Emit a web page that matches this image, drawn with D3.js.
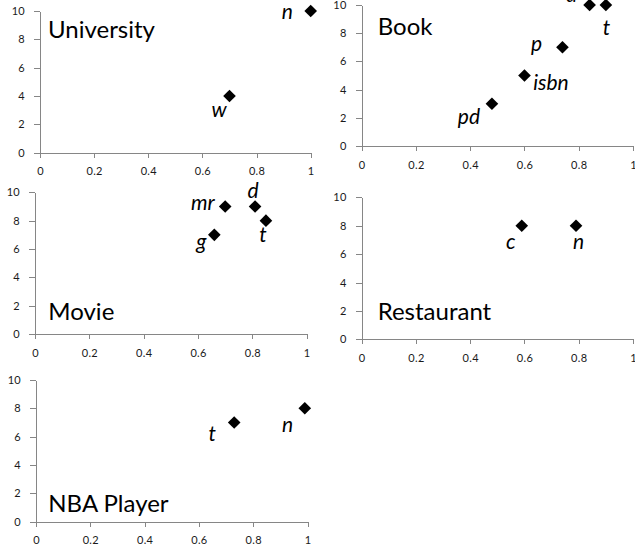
<!DOCTYPE html>
<html>
<head>
<meta charset="utf-8">
<script src="https://cdn.jsdelivr.net/npm/d3@7"></script>
<style>
  html, body { margin: 0; padding: 0; background: #fff; }
  svg { display: block; }
  .tick text { font-family: Lato, "Open Sans", sans-serif; font-size: 11px; letter-spacing: 0.3px; fill: #1a1a1a; }
  .domain, .tick line { stroke: #868686; stroke-width: 1; shape-rendering: crispEdges; }
  .title { font-family: Lato, "Open Sans", sans-serif; font-size: 24px; fill: #000; }
  .plabel { font-family: Lato, "Open Sans", sans-serif; font-style: italic; font-size: 21px; fill: #000; }
</style>
</head>
<body>
<svg id="chart" width="635" height="552"></svg>
<script>
// ---- data ----
const panelNames = ["University", "Book", "Movie", "Restaurant", "NBA Player"];
const pointNames = [
  ["n", "w"],
  ["pd", "isbn", "p", "d", "t"],
  ["mr", "d", "t", "g"],
  ["c", "n"],
  ["t", "n"]
];
const xValues = [
  [1.0, 0.70],
  [0.48, 0.60, 0.74, 0.84, 0.90],
  [0.70, 0.81, 0.85, 0.66],
  [0.59, 0.79],
  [0.73, 0.99]
];
const yValues = [
  [10, 4],
  [3, 5, 7, 10, 10],
  [9, 9, 8, 7],
  [8, 8],
  [7, 8]
];
const xTickValues = [0, 0.2, 0.4, 0.6, 0.8, 1];
const yTickValues = [0, 2, 4, 6, 8, 10];

// ---- layout ----
// plot frame per panel: [left, right, top (y=10), bottom (y=0)]
const frames = [
  [40, 310.7, 11, 152.7],
  [361.7, 633, 5, 146],
  [35, 306.7, 192.3, 334],
  [361.7, 633, 197.3, 339.3],
  [36, 307.5, 380, 521.5]
];
// title anchor per panel: [left, baseline]
const titlePos = [[48, 38.3], [377.7, 35], [48.3, 320], [377.7, 320], [48.3, 511.7]];
// label offset from its marker: [dx to text centre, dy to baseline]
const labelOffsets = [
  [[-23.5, 8], [-10.5, 21]],
  [[-23, 20], [26.5, 14.7], [-26, 3.5], [-18, -3], [0.6, 29.5]],
  [[-22.3, 3.3], [-2, -8], [-3, 21], [-13, 14]],
  [[-11, 23.3], [2.6, 23.3]],
  [[-22, 19], [-17.3, 23.4]]
];

const svg = d3.select("#chart");
const diamond = d3.symbol().type(d3.symbolSquare).size(80);

panelNames.forEach((name, i) => {
  const [l, r, t, b] = frames[i];
  const x = d3.scaleLinear().domain([0, 1]).range([l, r]);
  const y = d3.scaleLinear().domain([0, 10]).range([b, t]);
  const g = svg.append("g");

  g.append("g")
    .attr("transform", `translate(0,${b})`)
    .call(d3.axisBottom(x).tickValues(xTickValues).tickFormat(d => String(d))
      .tickSizeInner(5).tickSizeOuter(0).tickPadding(10));

  g.append("g")
    .attr("transform", `translate(${l},0)`)
    .call(d3.axisLeft(y).tickValues(yTickValues).tickFormat(d => String(d))
      .tickSizeInner(6).tickSizeOuter(0).tickPadding(9));

  g.append("text")
    .attr("class", "title")
    .attr("x", titlePos[i][0])
    .attr("y", titlePos[i][1])
    .text(name);

  const pts = pointNames[i].map((lab, j) => ({ lab, xv: xValues[i][j], yv: yValues[i][j], off: labelOffsets[i][j] }));

  g.selectAll("path.pt").data(pts).join("path")
    .attr("class", "pt")
    .attr("d", diamond)
    .attr("fill", "#000")
    .attr("transform", d => `translate(${x(d.xv)},${y(d.yv)}) rotate(45)`);

  g.selectAll("text.plabel").data(pts).join("text")
    .attr("class", "plabel")
    .attr("text-anchor", "middle")
    .attr("x", d => x(d.xv) + d.off[0])
    .attr("y", d => y(d.yv) + d.off[1])
    .text(d => d.lab);
});
</script>
</body>
</html>
